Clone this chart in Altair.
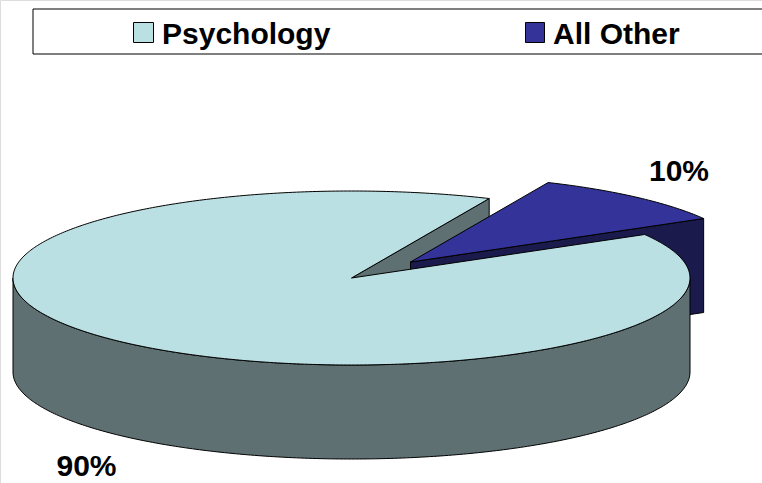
import math
import altair as alt
import pandas as pd

# Chart values
categories = ["Psychology", "All Other"]
shares = [90, 10]
top_colors = ["#BBE0E3", "#333399"]
side_colors = ["#5E7072", "#1A1A4D"]

W, H = 762, 483

# Tilted-disc geometry
CX, CY, RX, RY = 351.5, 278.0, 338.5, 87.0
DEPTH = 94.0
BOUNDARY_DEG = 30.0        # where the smaller slice begins, counter-clockwise from east
EXPLODE = (59.0, -16.0)    # offset of the pulled-out slice


def rim(deg, dx=0.0, dy=0.0):
    t = math.radians(deg)
    return (CX + dx + RX * math.cos(t), CY + dy - RY * math.sin(t))


def arc(a0, a1, dx=0.0, dy=0.0):
    steps = max(2, int(abs(a1 - a0) * 1.5))
    return [rim(a0 + (a1 - a0) * i / steps, dx, dy) for i in range(steps + 1)]


x_scale = alt.Scale(domain=[0, W], range=[0, W], nice=False, zero=False)
y_scale = alt.Scale(domain=[0, H], range=[0, H], nice=False, zero=False)


def polygon(points, fill):
    pts = list(points) + [points[0]]
    frame = pd.DataFrame(
        {"x": [p[0] for p in pts], "y": [p[1] for p in pts], "i": range(len(pts))}
    )
    return (
        alt.Chart(frame)
        .mark_line(fill=fill, stroke="black", strokeWidth=1, clip=True, interpolate="linear")
        .encode(
            x=alt.X("x:Q", scale=x_scale, axis=None),
            y=alt.Y("y:Q", scale=y_scale, axis=None),
            order="i:Q",
        )
    )


# Angular extent of each slice, derived from its share
sweep_other = 360.0 * shares[1] / sum(shares)
sweep_psych = 360.0 * shares[0] / sum(shares)
notch_end = BOUNDARY_DEG + sweep_other
psych_end = notch_end + sweep_psych

ex, ey = EXPLODE
hub = (CX, CY)
hub_down = (CX, CY + DEPTH)
hub_out = (CX + ex, CY + ey)

# Back to front: notch face, pulled-out slice, then the large slice
notch_rim = rim(notch_end)
notch_face = polygon(
    [hub, notch_rim, (notch_rim[0], notch_rim[1] + DEPTH), hub_down], side_colors[0]
)

corner = rim(BOUNDARY_DEG, ex, ey)
other_face = polygon(
    [hub_out, corner, (corner[0], corner[1] + DEPTH), (hub_out[0], hub_out[1] + DEPTH)],
    side_colors[1],
)
other_top = polygon([hub_out] + arc(BOUNDARY_DEG, notch_end, ex, ey), top_colors[1])

front_top = arc(180, 360)
front_bottom = [(x, y + DEPTH) for x, y in reversed(front_top)]
psych_wall = polygon(front_top + front_bottom, side_colors[0])
psych_top = polygon([hub] + arc(notch_end, psych_end), top_colors[0])

# Legend strip
box = (
    alt.Chart(pd.DataFrame({"x": [33], "x2": [W + 10], "y": [9], "y2": [54]}))
    .mark_rect(fill="white", stroke="black", strokeWidth=1, clip=True)
    .encode(
        x=alt.X("x:Q", scale=x_scale, axis=None),
        x2="x2:Q",
        y=alt.Y("y:Q", scale=y_scale, axis=None),
        y2="y2:Q",
    )
)
legend_frame = pd.DataFrame(
    {
        "name": categories,
        "color": top_colors,
        "x": [133.5, 525.5],
        "x2": [153.5, 544.5],
        "y": [22.5, 22.5],
        "y2": [42.5, 42.5],
        "tx": [162, 553],
        "ty": [34.5, 34.5],
    }
)
swatches = (
    alt.Chart(legend_frame)
    .mark_rect(stroke="black", strokeWidth=1)
    .encode(
        x=alt.X("x:Q", scale=x_scale, axis=None),
        x2="x2:Q",
        y=alt.Y("y:Q", scale=y_scale, axis=None),
        y2="y2:Q",
        fill=alt.Fill("color:N", scale=None),
    )
)
legend_text = (
    alt.Chart(legend_frame)
    .mark_text(
        font="Liberation Sans", fontWeight="bold", fontSize=30, align="left",
        baseline="middle", color="black",
    )
    .encode(
        x=alt.X("tx:Q", scale=x_scale, axis=None),
        y=alt.Y("ty:Q", scale=y_scale, axis=None),
        text="name:N",
    )
)

# Percentage labels
label_frame = pd.DataFrame(
    {
        "label": [f"{v}%" for v in shares],
        "x": [86.5, 679],
        "y": [467, 172],
    }
)
labels = (
    alt.Chart(label_frame)
    .mark_text(
        font="Liberation Sans", fontWeight="bold", fontSize=30, align="center",
        baseline="middle", color="black",
    )
    .encode(
        x=alt.X("x:Q", scale=x_scale, axis=None),
        y=alt.Y("y:Q", scale=y_scale, axis=None),
        text="label:N",
    )
)

chart = (
    alt.layer(
        notch_face, other_face, other_top, psych_wall, psych_top,
        box, swatches, legend_text, labels,
    )
    .properties(width=W, height=H, padding=0, autosize=alt.AutoSizeParams(type="none"))
    .configure_view(stroke=None)
    .configure(background="white")
)

chart.save("out.html", embed_options={"renderer": "svg", "actions": False})
